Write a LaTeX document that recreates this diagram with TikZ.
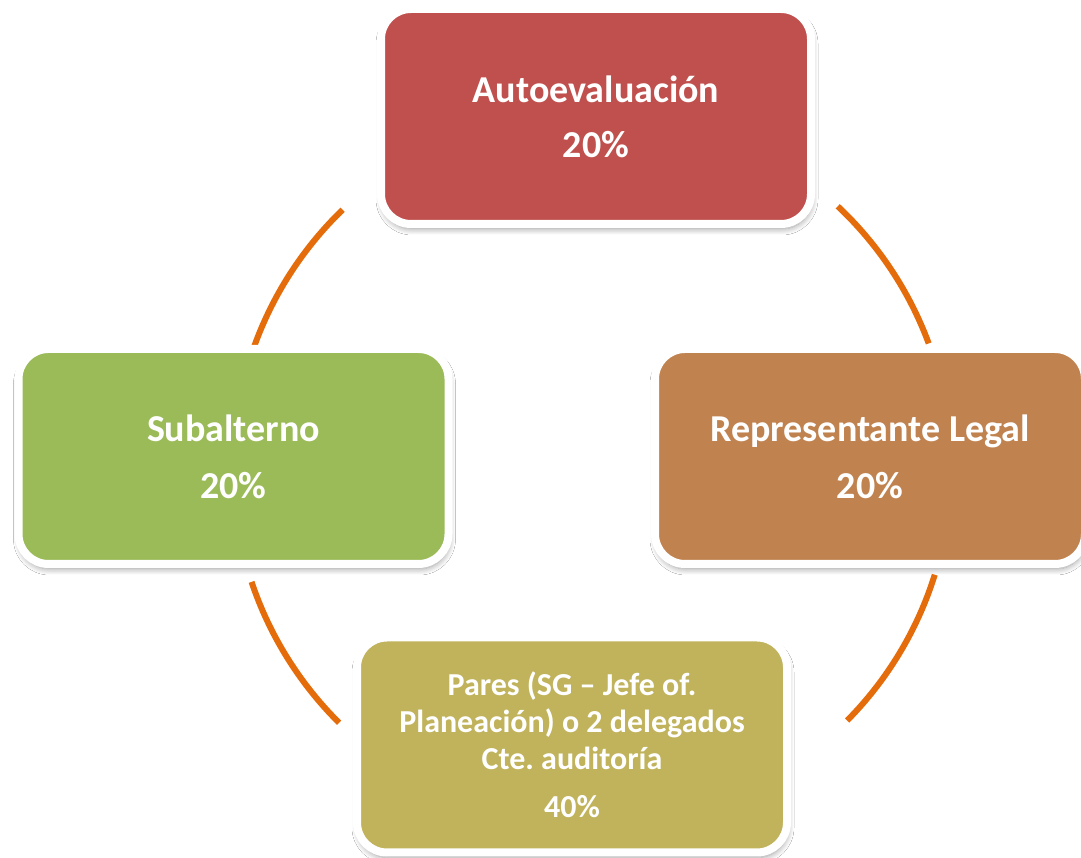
\documentclass[tikz,border=0pt]{standalone}
\usepackage{fontspec}
\setmainfont{Carlito}
\frenchspacing
\usetikzlibrary{shadows.blur}
\definecolor{cred}{HTML}{C0504D}
\definecolor{cbrown}{HTML}{C08350}
\definecolor{cgreen}{HTML}{9BBB59}
\definecolor{colive}{HTML}{C0B35B}
\definecolor{corange}{HTML}{E46C0A}
\tikzset{
  box/.style={rectangle, rounded corners=30pt, draw=white, line width=8pt,
    minimum width=430pt, minimum height=215pt, text=white, align=center,
    inner sep=0pt,
    blur shadow={shadow xshift=1pt, shadow yshift=-5pt, shadow opacity=40,
      shadow blur steps=8, shadow blur radius=6pt}},
  bigtxt/.style={font=\fontsize{38}{44}\selectfont\bfseries},
  smalltxt/.style={font=\fontsize{32}{37}\selectfont\bfseries},
  ring/.style={draw=corange, line width=6pt}
}
\begin{document}
\begin{tikzpicture}[x=1pt,y=1pt]
\useasboundingbox (0,0) rectangle (1081,858);
\fill[white] (0,0) rectangle (1081,858);
\coordinate (c) at (592,390);
\draw[ring] ([shift={(20.3:359)}]c) arc[start angle=20.3, end angle=46.8, radius=359];
\draw[ring] ([shift={(134:359)}]c) arc[start angle=134, end angle=161, radius=359];
\draw[ring] ([shift={(198.5:359)}]c) arc[start angle=198.5, end angle=225.2, radius=359];
\draw[ring] ([shift={(315.3:359)}]c) arc[start angle=315.3, end angle=342.7, radius=359];
\node[box, bigtxt, fill=cred] (auto) at (596,741.5) {Autoevaluación\\[11pt]20\%};
\node[box, bigtxt, fill=cgreen] (sub) at (233.5,401.5) {Subalterno\\[13pt]20\%};
\node[box, bigtxt, fill=cbrown] (rep) at (870,401.5) {Representante Legal\\[13pt]20\%};
\node[box, smalltxt, fill=colive] (par) at (572,113) {Pares (SG – Jefe of.\\Planeación) o 2 delegados\\Cte. auditoría\\[11pt]40\%};
\end{tikzpicture}
\end{document}
